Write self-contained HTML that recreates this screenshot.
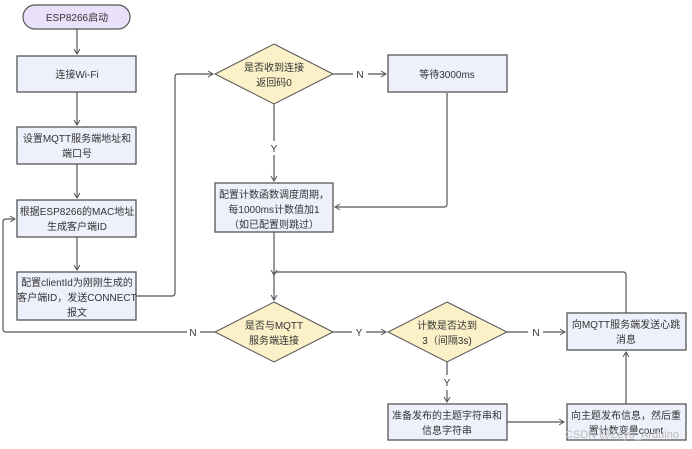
<!DOCTYPE html>
<html><head><meta charset="utf-8"><style>
html,body{margin:0;padding:0;background:#fff;width:692px;height:449px;overflow:hidden}
text{font-family:"Liberation Sans","Noto Sans CJK SC",sans-serif;font-size:10px;fill:#333;text-anchor:middle}
.b{fill:#eef1fb;stroke:#555;stroke-width:1.3}
.d{fill:#fbf0c8;stroke:#555;stroke-width:1}
.l{fill:none;stroke:#555;stroke-width:1.2}
</style></head><body>
<svg width="692" height="449" viewBox="0 0 692 449" xmlns="http://www.w3.org/2000/svg">
<defs><marker id="a" markerWidth="8" markerHeight="8" refX="6" refY="4" orient="auto" markerUnits="userSpaceOnUse"><path d="M1,1 L6,4 L1,7" fill="none" stroke="#555" stroke-width="1"/></marker></defs>
<g class="l" marker-end="url(#a)">
<path d="M77,29 V54"/>
<path d="M77,92 V125"/>
<path d="M77,164 V198"/>
<path d="M77,237 V270"/>
<path d="M136,296 H172 Q175,296 175,293 V77 Q175,74 178,74 H213"/>
<path d="M333,74 H353 M368,74 H386"/>
<path d="M447,93 V204 Q447,207 444,207 H335"/>
<path d="M274,104 V141 M274,155 V181"/>
<path d="M274,232 V300"/>
<path d="M626,313 V275 Q626,272 623,272 H277 Q274,272 274,275"/>
<path d="M215,332 H200 M187,332 H6 Q3,332 3,329 V222 Q3,219 6,219 H15"/>
<path d="M333,332 H352 M366,332 H386"/>
<path d="M507,332 H528 M543,332 H565"/>
<path d="M447,362 V375 M447,390 V402"/>
<path d="M507,422 H564"/>
<path d="M626,404 V352"/>
</g>
<rect x="23" y="5" width="107" height="24" rx="12" fill="#e9e1f9" stroke="#555" stroke-width="1.2"/>
<text x="77" y="21">ESP8266启动</text>
<rect class="b" x="17" y="56" width="119" height="36"/><text x="77" y="78">连接Wi-Fi</text>
<rect class="b" x="17" y="127" width="119" height="37"/><text x="77" y="142">设置MQTT服务端地址和</text><text x="77" y="157">端口号</text>
<rect class="b" x="17" y="200" width="119" height="37"/><text x="77" y="215">根据ESP8266的MAC地址</text><text x="77" y="230">生成客户端ID</text>
<rect class="b" x="17" y="272" width="119" height="48"/><text x="77" y="286">配置clientId为刚刚生成的</text><text x="77" y="301">客户端ID，发送CONNECT</text><text x="77" y="316">报文</text>
<polygon class="d" points="274,44 333,74 274,104 215,74"/><text x="274" y="71">是否收到连接</text><text x="274" y="86">返回码0</text>
<rect class="b" x="388" y="55" width="119" height="37"/><text x="447" y="78">等待3000ms</text>
<rect class="b" x="215" y="183" width="118" height="49"/><text x="274" y="198">配置计数函数调度周期，</text><text x="274" y="213">每1000ms计数值加1</text><text x="274" y="228">（如已配置则跳过）</text>
<polygon class="d" points="274,302 333,332 274,362 215,332"/><text x="274" y="329">是否与MQTT</text><text x="274" y="344">服务端连接</text>
<polygon class="d" points="447,302 507,332 447,362 388,332"/><text x="447" y="329">计数是否达到</text><text x="447" y="344">3（间隔3s)</text>
<rect class="b" x="567" y="313" width="119" height="37"/><text x="626" y="328">向MQTT服务端发送心跳</text><text x="626" y="343">消息</text>
<rect class="b" x="388" y="404" width="119" height="36"/><text x="447" y="419">准备发布的主题字符串和</text><text x="447" y="434">信息字符串</text>
<rect class="b" x="567" y="404" width="119" height="36"/><text x="626" y="419">向主题发布信息，然后重</text><text x="626" y="434">置计数变量count</text>
<text x="360" y="78">N</text>
<text x="274" y="152">Y</text>
<text x="193" y="336">N</text>
<text x="359" y="336">Y</text>
<text x="536" y="336">N</text>
<text x="447" y="386">Y</text>
<text x="622" y="438" style="fill:#bbb;font-size:11px">CSDN @Zeyu_Arduino</text>
</svg>
</body></html>
